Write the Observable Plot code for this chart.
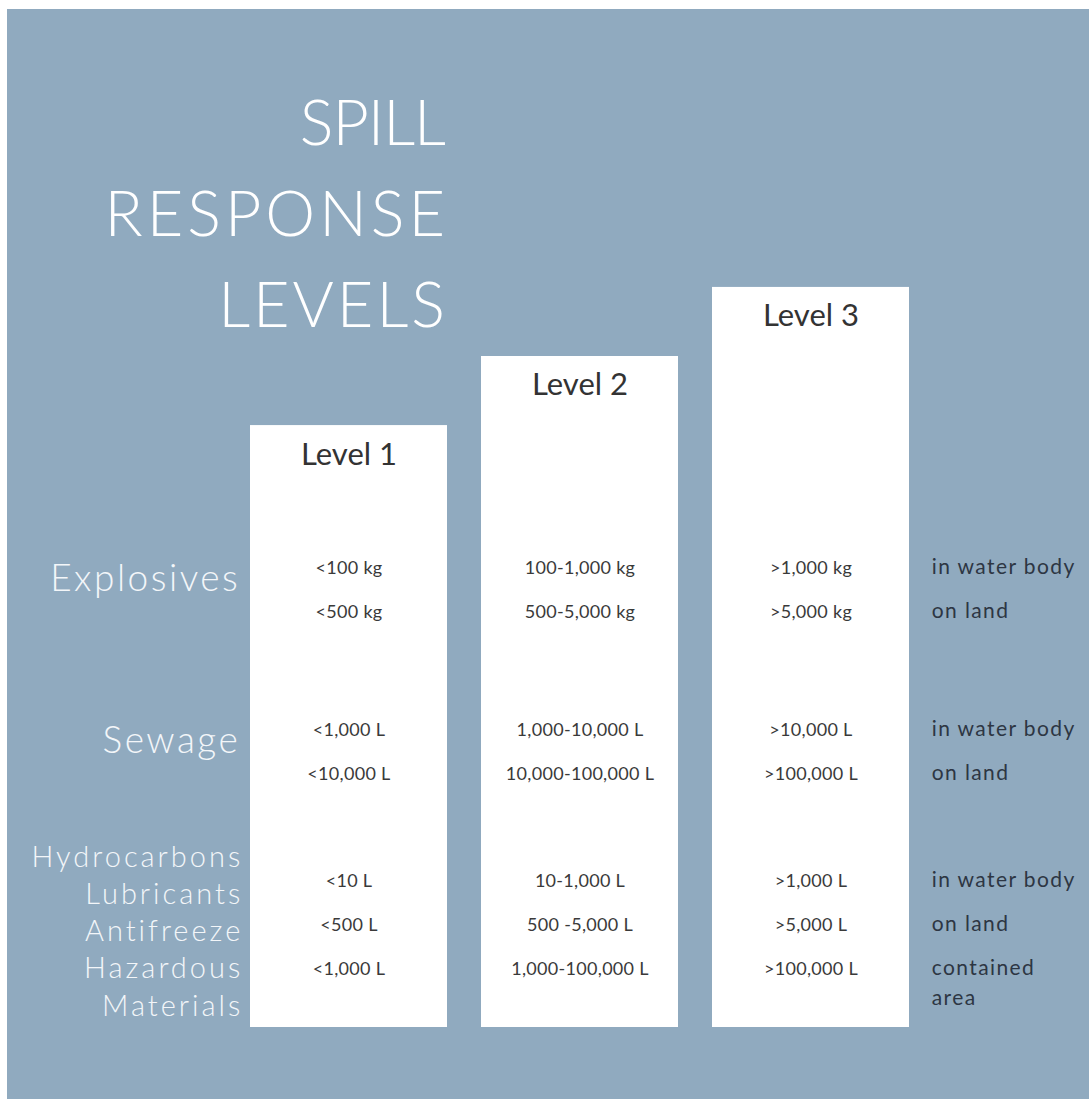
<!DOCTYPE html>
<html>
<head>
<meta charset="utf-8">
<script src="https://cdn.jsdelivr.net/npm/d3@7"></script>
<script src="https://cdn.jsdelivr.net/npm/@observablehq/plot@0.6"></script>
<style>
  html, body { margin: 0; padding: 0; background: #ffffff; }
  #page { position: relative; width: 1089px; height: 1099px; overflow: hidden; background: #ffffff; }
  #panel { position: absolute; left: 7px; top: 9px; width: 1082px; height: 1090px; background: #90aabf; }
  #title {
    position: absolute; left: 0; top: 66px; width: 441px; text-align: right;
    font-family: Lato, "Open Sans", sans-serif; font-weight: 300; font-size: 63px;
    line-height: 91px; color: #ffffff;
  }
  #title div { letter-spacing: 3px; white-space: pre; }
  #title div:first-child { letter-spacing: -1px; margin-right: 3px; }
  #title div:nth-child(2) { letter-spacing: 4px; margin-right: -1px; }
  #chart { position: absolute; left: 0; top: 0; }
  g[aria-description="category labels"] text { letter-spacing: 2.5px; }
  g[aria-description="group labels"] text { letter-spacing: 3px; }
  g[aria-description="conditions"] text { letter-spacing: 1.4px; }
  g[aria-description="values"] text { letter-spacing: 0.3px; }
</style>
</head>
<body>
<div id="page">
  <div id="panel">
    <div id="chart"></div>
    <div id="title"></div>
  </div>
</div>
<script>
// ---- data ----
const titleLines = ["SPILL", "RESPONSE", "LEVELS"];
const levels = ["Level 1", "Level 2", "Level 3"];
const levelHeights = [13.68, 15.25, 16.82];           // bar heights
const categories = ["Explosives", "Sewage", "Hydrocarbons\nLubricants\nAntifreeze\nHazardous\nMaterials"];
const conditions = [
  ["in water body", "on land"],
  ["in water body", "on land"],
  ["in water body", "on land", "contained\narea"]
];
const level1Values = ["<100 kg", "<500 kg", "<1,000 L", "<10,000 L", "<10 L", "<500 L", "<1,000 L"];
const level2Values = ["100-1,000 kg", "500-5,000 kg", "1,000-10,000 L", "10,000-100,000 L", "10-1,000 L", "500 -5,000 L", "1,000-100,000 L"];
const level3Values = [">1,000 kg", ">5,000 kg", ">10,000 L", ">100,000 L", ">1,000 L", ">5,000 L", ">100,000 L"];

// ---- layout constants (in y-scale row units) ----
const topRow = 10.43, rowStep = 1, groupGaps = [2.68, 2.43];

// build rows
const rows = [];
let pos = topRow;
categories.forEach((cat, g) => {
  if (g > 0) pos -= groupGaps[g - 1];
  conditions[g].forEach((cond, r) => {
    if (r > 0) pos -= rowStep;
    rows.push({ g, cat, cond, y: pos, i: rows.length });
  });
});
const valuesByLevel = [level1Values, level2Values, level3Values];
const cells = [];
rows.forEach((row) => levels.forEach((lv, k) => cells.push({ level: lv, y: row.y, text: valuesByLevel[k][row.i] })));
const catLabels = categories.map((cat, g) => {
  const rs = rows.filter(r => r.g === g);
  const multi = cat.includes("\n");
  return { cat, multi, y: multi ? d3.mean(rs, r => r.y) : rs[0].y };
});
const bars = levels.map((lv, i) => ({ level: lv, h: levelHeights[i] }));

const titleEl = document.getElementById("title");
titleLines.forEach(t => { const d = document.createElement("div"); d.textContent = t; titleEl.appendChild(d); });

const halfBand = 98.7;
const font = "Lato, 'Open Sans', sans-serif";

const chart = Plot.plot({
  width: 1082,
  height: 1090,
  marginLeft: 243,
  marginRight: 179,
  marginTop: 50,
  marginBottom: 72,
  style: { background: "transparent", overflow: "visible", fontFamily: font },
  x: { type: "band", domain: levels, paddingInner: 0.147, paddingOuter: 0, axis: null },
  y: { domain: [0, 22], axis: null },
  marks: [
    Plot.barY(bars, { x: "level", y1: 0, y2: "h", fill: "#ffffff" }),
    Plot.text(bars, { x: "level", y: "h", text: "level", dy: 29, fontSize: 31, fill: "#333333", lineAnchor: "middle", ariaDescription: "level headers" }),
    Plot.text(cells, { x: "level", y: "y", text: "text", fontSize: 18, fill: "#3a3a3a", lineAnchor: "middle", ariaDescription: "values" }),
    Plot.text(catLabels.filter(d => !d.multi), {
      x: () => levels[0], y: "y", text: "cat", textAnchor: "end", dx: -(halfBand + 10), dy: 11,
      fontSize: 37, fontWeight: 300, fill: "#f3f6f9", lineAnchor: "middle", ariaDescription: "category labels"
    }),
    Plot.text(catLabels.filter(d => d.multi), {
      x: () => levels[0], y: "y", text: "cat", textAnchor: "end", dx: -(halfBand + 7), dy: 4,
      fontSize: 29, fontWeight: 300, fill: "#f3f6f9", lineAnchor: "middle", lineHeight: 1.28, ariaDescription: "group labels"
    }),
    Plot.text(rows, {
      x: () => levels[2], y: "y", text: "cond", textAnchor: "start", dx: halfBand + 22, dy: -16,
      fontSize: 21, fill: "#2d3643", lineAnchor: "top", lineHeight: 1.45, ariaDescription: "conditions"
    })
  ]
});
document.getElementById("chart").appendChild(chart);
</script>
</body>
</html>
